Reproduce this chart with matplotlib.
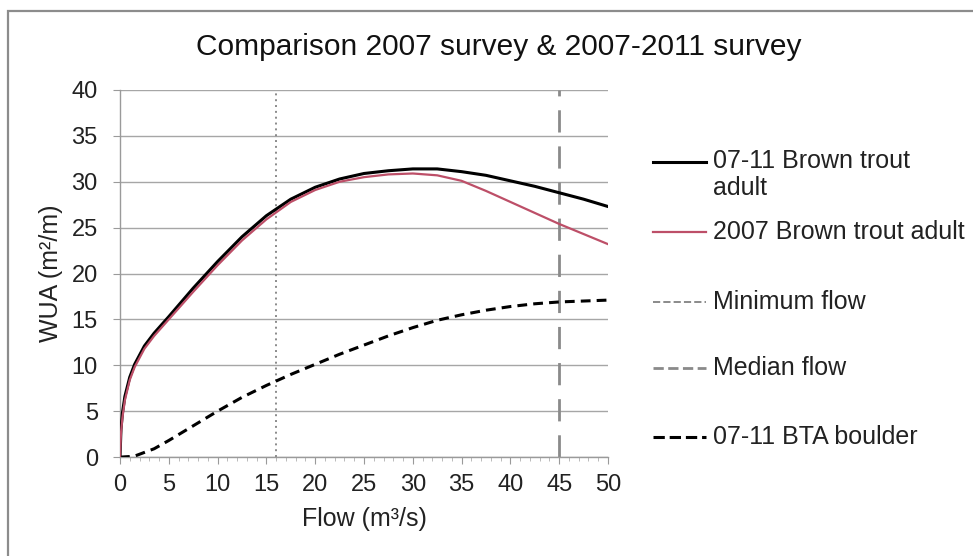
import matplotlib
matplotlib.use("Agg")
import matplotlib.pyplot as plt
from matplotlib.lines import Line2D
from matplotlib.patches import Rectangle
from matplotlib.ticker import MultipleLocator

plt.rcParams["font.family"] = ["Liberation Sans", "DejaVu Sans"]

# Weighted usable area vs flow
flow = [0, 0.1, 0.25, 0.5, 1, 1.5, 2.5, 3.5, 5, 7.5, 10, 12.5, 15, 17.5, 20,
        22.5, 25, 27.5, 30, 32.5, 35, 37.5, 40, 42.5, 45, 47.5, 50]
bt_adult_0711 = [0, 3.0, 4.8, 6.6, 8.7, 10.1, 12.1, 13.5, 15.3, 18.4, 21.3,
                 24.0, 26.3, 28.1, 29.4, 30.3, 30.9, 31.2, 31.4, 31.4, 31.1,
                 30.7, 30.1, 29.5, 28.8, 28.1, 27.3]
bt_adult_2007 = [0, 2.6, 4.3, 6.2, 8.4, 9.8, 11.8, 13.2, 15.0, 18.0, 20.9,
                 23.6, 25.9, 27.8, 29.1, 30.0, 30.5, 30.8, 30.9, 30.7, 30.1,
                 29.0, 27.8, 26.6, 25.4, 24.3, 23.2]
bta_boulder = [0, 0, 0, 0.02, 0.05, 0.1, 0.5, 0.9, 1.8, 3.4, 5.0, 6.5, 7.8,
               9.0, 10.1, 11.2, 12.2, 13.2, 14.1, 14.9, 15.5, 16.0, 16.4,
               16.7, 16.9, 17.0, 17.1]

minimum_flow = 16
median_flow = 45

labels = ["07-11 Brown trout\nadult", "2007 Brown trout adult", "Minimum flow",
          "Median flow", "07-11 BTA boulder"]

W, H = 973, 556
fig = plt.figure(figsize=(W / 100, H / 100), dpi=100)
ax = fig.add_axes([120 / W, 1 - 457 / H, (608 - 120) / W, (457 - 90) / H])

# outer chart frame (only top and left edges fall inside the image)
fig.add_artist(Rectangle((8 / W, -0.1), 1.2, 1 - 11 / H + 0.1,
                         transform=fig.transFigure, fill=False,
                         edgecolor="#8c8c8c", linewidth=1.6))

grey = "#8a8a8a"
text_col = "#222222"
l1, = ax.plot(flow, bt_adult_0711, color="black", linewidth=2.2, zorder=4)
l2, = ax.plot(flow, bt_adult_2007, color="#bd4f68", linewidth=1.6, zorder=5)
l3 = ax.axvline(minimum_flow, color=grey, linestyle=(0, (1, 2)), linewidth=1.4)
l4 = ax.axvline(median_flow, color=grey, linestyle=(0, (8, 5)), linewidth=2.0)
l5, = ax.plot(flow, bta_boulder, color="black", linewidth=2.2,
              linestyle=(0, (3.2, 2)), zorder=4)

ax.set_xlim(0, 50)
ax.set_ylim(0, 40)
ax.xaxis.set_major_locator(MultipleLocator(5))
ax.xaxis.set_minor_locator(MultipleLocator(1))
ax.yaxis.set_major_locator(MultipleLocator(5))
ax.yaxis.grid(True, color="#a6a6a6", linewidth=1.0)
ax.set_axisbelow(True)

for side in ("top", "right"):
    ax.spines[side].set_visible(False)
for side in ("left", "bottom"):
    ax.spines[side].set_color("#9a9a9a")
    ax.spines[side].set_linewidth(1.0)

ax.tick_params(axis="both", which="major", colors="#9a9a9a", length=5,
               labelsize=17, labelcolor=text_col)
ax.tick_params(axis="x", which="minor", colors="#b0b0b0", length=3)
ax.tick_params(axis="x", pad=7)
ax.tick_params(axis="y", pad=11)

ax.set_xlabel("Flow (m³/s)", fontsize=18, color=text_col, labelpad=8)
ax.set_ylabel("WUA (m²/m)", fontsize=18, color=text_col, labelpad=6)

fig.text(499 / W, 1 - 47 / H, "Comparison 2007 survey & 2007-2011 survey",
         ha="center", va="center", fontsize=21.5, color="#111111")

# legend drawn beside the plot, one entry per plotted line
entry_y = [162, 232, 302, 368, 437]
for line, label, yp in zip([l1, l2, l3, l4, l5], labels, entry_y):
    y = 1 - yp / H
    fig.add_artist(Line2D([653 / W, 706 / W], [y, y], transform=fig.transFigure,
                          color=line.get_color(), linewidth=line.get_linewidth(),
                          linestyle=line.get_linestyle()))
    if "\n" in label:
        fig.text(713 / W, y + 13 / H, label, ha="left", va="top",
                 fontsize=18, color=text_col, linespacing=1.15)
    else:
        fig.text(713 / W, y, label, ha="left", va="center",
                 fontsize=18, color=text_col)

fig.savefig("out.png", dpi=100)
